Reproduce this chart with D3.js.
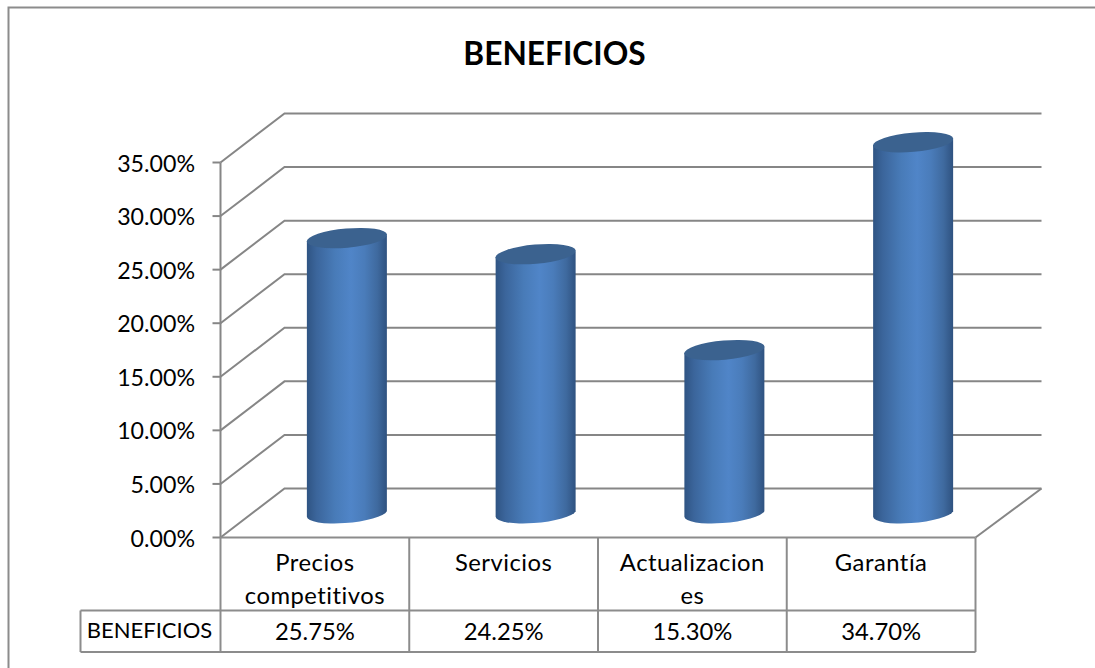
<!DOCTYPE html>
<html><head><meta charset="utf-8">
<script src="https://cdn.jsdelivr.net/npm/d3@7"></script>
<style>html,body{margin:0;padding:0;background:#fff}svg{display:block}text{font-family:Lato,"Open Sans",sans-serif;fill:#000;font-variant-ligatures:none}</style>
</head><body><div id="chart"></div>
<script>
const categories = ["Precios competitivos","Servicios","Actualizaciones","Garantía"];
const categoryLines = [["Precios","competitivos"],["Servicios"],["Actualizacion","es"],["Garantía"]];
const values = [25.75,24.25,15.30,34.70];
const valueLabels = ["25.75%","24.25%","15.30%","34.70%"];
const seriesName = "BENEFICIOS";
const title = "BENEFICIOS";
const yTicks = [0,5,10,15,20,25,30,35];

const W=1095,H=668, dx=64, dy=-49, grid="#868686";
const svg=d3.select("#chart").append("svg").attr("width",W).attr("height",H);
const x=d3.scaleBand().domain(categories).range([220.5,975.5]);
const y=d3.scaleLinear().domain([0,35]).range([537.5,162.5]);

const defs=svg.append("defs");
const g=defs.append("linearGradient").attr("id","cyl").attr("x1",0).attr("x2",1).attr("y1",0).attr("y2",0);
[[0,"#2f5483"],[0.12,"#3b659b"],[0.35,"#487bb8"],[0.55,"#5085c8"],[0.72,"#4a7cba"],[0.88,"#3f6a9f"],[1,"#2f5280"]]
  .forEach(s=>g.append("stop").attr("offset",s[0]).attr("stop-color",s[1]));

// outer frame
svg.append("path").attr("d",`M1095,7.5H8.5V${H}`).attr("fill","none").attr("stroke","#8c8c8c").attr("stroke-width",2);

// title
svg.append("text").attr("x",554.5).attr("y",65).attr("text-anchor","middle").attr("font-weight",700).attr("font-size",31.7).text(title);

// gridlines
const gl=svg.append("g").attr("fill","none").attr("stroke",grid).attr("stroke-width",2);
yTicks.forEach(t=>{
  const yy=y(t);
  gl.append("path").attr("d",`M${x.range()[0]},${yy}L${x.range()[0]+dx},${yy+dy}H${x.range()[1]+dx+2}`);
});
gl.append("path").attr("d",`M${x.range()[1]},${y(0)}L${x.range()[1]+dx+2},${y(0)+dy}`);

// y axis
gl.append("path").attr("d",`M${x.range()[0]},${y(35)}V${y(0)}`);
yTicks.forEach(t=>gl.append("path").attr("d",`M${x.range()[0]-8},${y(t)}H${x.range()[0]}`));
svg.append("g").selectAll("text").data(yTicks).join("text")
  .attr("x",195).attr("y",d=>y(d)+9).attr("text-anchor","end").attr("font-size",23.2)
  .text(d=>d3.format(".2f")(d)+"%");

// table
const tTop=y(0), tMid=610.5, tBot=652, tLeft=80.5;
const tb=svg.append("g").attr("fill","none").attr("stroke","#8c8c8c").attr("stroke-width",2);
tb.append("path").attr("d",`M${x.range()[0]},${tTop}H${x.range()[1]}`);
tb.append("path").attr("d",`M${tLeft},${tMid}H${x.range()[1]}M${tLeft},${tBot}H${x.range()[1]}M${tLeft},${tMid}V${tBot}`);
categories.forEach(c=>tb.append("path").attr("d",`M${x(c)},${tTop}V${tBot}`));
tb.append("path").attr("d",`M${x.range()[1]},${tTop}V${tBot}`);

// category labels
const fs=23.8;
categories.forEach((c,i)=>{
  const cx=x(c)+x.bandwidth()/2;
  svg.append("g").selectAll("text").data(categoryLines[i]).join("text")
    .attr("x",cx).attr("y",(d,j)=>571+j*33).attr("text-anchor","middle").attr("font-size",fs).attr("letter-spacing",0.5).text(d=>d);
  svg.append("text").attr("x",cx).attr("y",640).attr("text-anchor","middle").attr("font-size",fs).text(valueLabels[i]);
});
svg.append("text").attr("x",149.5).attr("y",638).attr("text-anchor","middle").attr("font-size",22).text(seriesName);

// cylinders
const rx=40.3, ry=9.6, rot=-5, ex=40, ey=2.8;
categories.forEach((c,i)=>{
  const cx=x(c)+x.bandwidth()/2+dx/2;
  const topY=y(values[i])+dy/2+1, botY=y(0)+dy/2+1;
  const b=svg.append("g");
  b.append("path").attr("fill","url(#cyl)")
   .attr("d",`M${cx-ex},${topY+ey}V${botY+ey}A${rx},${ry} ${rot} 0 0 ${cx+ex},${botY-ey}V${topY-ey}Z`);
  b.append("ellipse").attr("cx",cx).attr("cy",topY).attr("rx",rx).attr("ry",ry)
   .attr("transform",`rotate(${rot} ${cx} ${topY})`).attr("fill","#3b628f");
});
</script></body></html>
